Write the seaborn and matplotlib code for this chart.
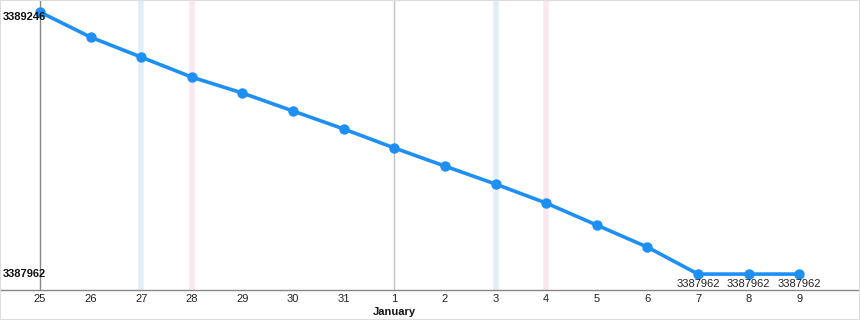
import matplotlib
matplotlib.use("Agg")
import matplotlib.pyplot as plt
import seaborn as sns
import pandas as pd
from matplotlib.patches import Rectangle
from matplotlib.transforms import blended_transform_factory

days = ["25", "26", "27", "28", "29", "30", "31", "1", "2", "3", "4", "5", "6", "7", "8", "9"]
values = [3389246, 3389123, 3389025, 3388927, 3388849, 3388761, 3388673, 3388580,
          3388491, 3388403, 3388310, 3388202, 3388094, 3387962, 3387962, 3387962]
saturdays = ["27", "3"]
sundays = ["28", "4"]
month_label = "January"
month_start = "1"
labelled_points = ["7", "8", "9"]

sns.set_theme(style="white")
plt.rcParams["font.family"] = ["Liberation Sans", "DejaVu Sans"]

df = pd.DataFrame({"pos": range(len(days)), "day": days, "value": values})

fig = plt.figure(figsize=(8.6, 3.2), dpi=100)
ax = fig.add_axes([0, 30 / 320, 1, 290 / 320])
ax.set_facecolor("white")

for d in saturdays:
    ax.axvline(days.index(d), color="#e3eff7", lw=4, zorder=0)
for d in sundays:
    ax.axvline(days.index(d), color="#fbe7ef", lw=4, zorder=0)
ax.axvline(days.index(month_start), color="#c4c4c4", lw=1, zorder=1)
ax.axvline(0, color="#888888", lw=1, zorder=1)

sns.lineplot(data=df, x="pos", y="value", ax=ax, color="#1e8ff5", lw=2.6,
             marker="o", markersize=7.5, markeredgewidth=0, zorder=3)

ax.set_xlim(-0.79, 16.2)
ax.set_ylim(3387884, 3389305)

for s in ["top", "right", "left"]:
    ax.spines[s].set_visible(False)
ax.spines["bottom"].set_color("#888888")
ax.spines["bottom"].set_linewidth(1)

ax.set_xticks(df["pos"])
ax.set_xticklabels(days, fontsize=8, color="#222222")
ax.tick_params(axis="x", length=0, pad=3)
ax.set_yticks([])
ax.set_xlabel("")
ax.set_ylabel("")

tr = blended_transform_factory(fig.transFigure, ax.transData)
ax.text(3 / 860, max(values), str(max(values)), transform=tr, fontsize=8, color="#111111",
        ha="left", va="top", fontweight="bold")
ax.text(3 / 860, min(values), str(min(values)), transform=tr, fontsize=8, color="#111111",
        ha="left", va="center", fontweight="bold")

for d in labelled_points:
    i = days.index(d)
    ax.text(i, values[i] - 25, str(values[i]), fontsize=8, color="#222222",
            ha="center", va="top")

ax.text(days.index(month_start), -0.058, month_label, transform=blended_transform_factory(ax.transData, ax.transAxes),
        fontsize=8, fontweight="bold", ha="center", va="top", color="#111111")

fig.patches.append(Rectangle((0, 0), 1, 1, transform=fig.transFigure, fill=False,
                             edgecolor="#dddddd", lw=1.5))

fig.savefig("out.png", dpi=100)
